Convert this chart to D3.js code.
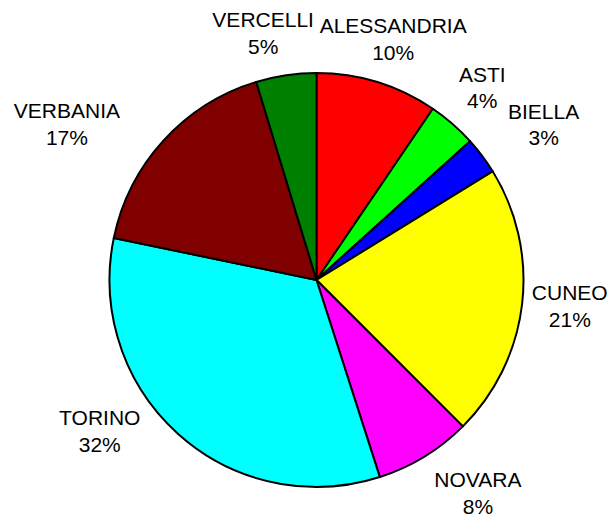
<!DOCTYPE html>
<html>
  <head>
    <title>Piemonte</title>
    <script src="https://d3js.org/d3.v7.min.js" charset="utf-8"></script>
    <style type="text/css">
      body { margin: 0; background: #fff; }
      text { font-family: "Liberation Sans", Arial, sans-serif; font-size: 21px; fill: #000; }
    </style>
  </head>
  <body>
    <script type="text/javascript">

      // Data (clockwise from 12 o'clock)
      var provinces = ["ALESSANDRIA", "ASTI", "BIELLA", "CUNEO", "NOVARA", "TORINO", "VERBANIA", "VERCELLI"];
      var shares = [9.5, 3.8, 2.9, 21.3, 7.55, 33.2, 17.05, 4.7];
      var percentLabels = ["10%", "4%", "3%", "21%", "8%", "32%", "17%", "5%"];
      var sliceColors = ["#ff0000", "#00ff00", "#0000ff", "#ffff00", "#ff00ff", "#00ffff", "#800000", "#008000"];

      // Setup size
      var width = 610;
      var height = 518;
      var cx = 316.5, cy = 280, radius = 207;

      // label nudges (text moved by hand in the original)
      var labelNudge = [[2, 2], [-1, -1], [24, -3], [1, -3.5], [29, -4], [-47, -38], [-62, 15], [-16, 4]];

      var svg = d3.select("body")
          .append("svg")
          .attr("width", width)
          .attr("height", height);

      var rows = provinces.map(function(p, i) {
        return { name: p, value: shares[i], label: percentLabels[i], color: sliceColors[i], i: i };
      });

      var pie = d3.pie().sort(null).value(function(d) { return d.value; });
      var arc = d3.arc().innerRadius(0).outerRadius(radius);
      var labelArc = d3.arc().innerRadius(254).outerRadius(254);

      var g = svg.append("g").attr("transform", "translate(" + cx + "," + cy + ")");

      // Draw the slices
      g.selectAll("path")
          .data(pie(rows))
          .enter().append("path")
          .attr("d", arc)
          .style("fill", function(d) { return d.data.color; })
          .style("stroke", "#000")
          .style("stroke-width", 2)
          .style("stroke-linejoin", "round");

      // Labels: name on first line, percentage below
      var labels = g.selectAll("g.lbl")
          .data(pie(rows))
          .enter().append("g")
          .attr("class", "lbl")
          .attr("transform", function(d) {
            var c = labelArc.centroid(d);
            var n = labelNudge[d.data.i];
            return "translate(" + (c[0] + n[0]) + "," + (c[1] + n[1]) + ")";
          });

      labels.append("text")
          .attr("text-anchor", "middle")
          .attr("y", -5.75)
          .text(function(d) { return d.data.name; });

      labels.append("text")
          .attr("text-anchor", "middle")
          .attr("y", 20.75)
          .text(function(d) { return d.data.label; });

    </script>
  </body>
</html>
